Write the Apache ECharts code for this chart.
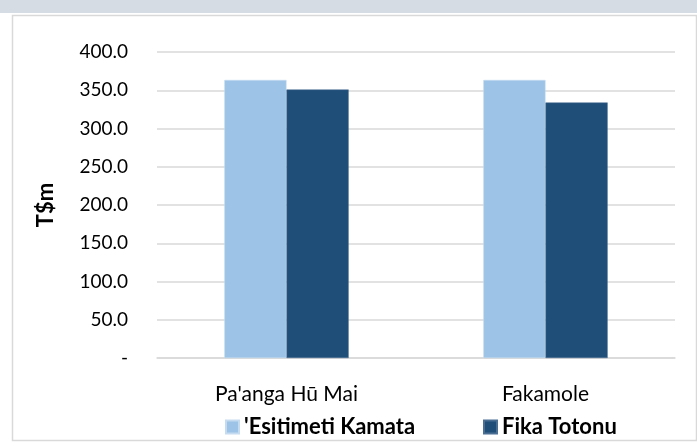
<!DOCTYPE html>
<html>
<head>
<meta charset="utf-8">
<script src="https://cdn.jsdelivr.net/npm/echarts@6/dist/echarts.min.js"></script>
<style>
  html, body { margin: 0; padding: 0; background: #fff; }
  #main { width: 697px; height: 446px; }
</style>
</head>
<body>
<div id="main"></div>
<script>
// data
const categories = ["Pa'anga Hū Mai", 'Fakamole'];
const seriesNames = ["'Esitimeti Kamata", 'Fika Totonu'];
const estimateValues = [363.5, 363.5];
const actualValues = [351, 334];
const yTicks = { min: 0, max: 400, step: 50 };

const chart = echarts.init(document.getElementById('main'));
const font = 'Lato, "Open Sans", sans-serif';

const legendText = { fontFamily: font, fontSize: 22, fontWeight: 'bold', color: '#000' };

const option = {
  animation: false,
  textStyle: { fontFamily: font },
  graphic: [
    { type: 'rect', left: 0, top: 0, shape: { width: 697, height: 13 }, style: { fill: '#d6dce4' } },
    { type: 'rect', left: 10, top: 13, shape: { width: 684, height: 425 }, style: { fill: 'none', stroke: '#d9d9d9', lineWidth: 1.5 } }
  ],
  grid: { left: 157, right: 22, top: 52, bottom: 88 },
  legend: [
    { left: 220, top: 411, itemWidth: 13, itemHeight: 13, icon: 'rect', textStyle: legendText, data: [seriesNames[0]] },
    { left: 478, top: 411, itemWidth: 13, itemHeight: 13, icon: 'rect', textStyle: legendText, data: [seriesNames[1]] }
  ],
  xAxis: {
    type: 'category',
    data: categories,
    axisLine: { lineStyle: { color: '#d9d9d9', width: 1.5 } },
    axisTick: { show: false },
    axisLabel: { color: '#000', fontSize: 21, margin: 26, fontFamily: font }
  },
  yAxis: {
    type: 'value',
    min: yTicks.min,
    max: yTicks.max,
    interval: yTicks.step,
    name: 'T$m',
    nameLocation: 'middle',
    nameGap: 100,
    nameTextStyle: { fontSize: 22, fontWeight: 'bold', color: '#000', fontFamily: font },
    axisLine: { show: false },
    axisTick: { show: false },
    splitLine: { lineStyle: { color: '#d9d9d9', width: 1.5 } },
    axisLabel: {
      color: '#000',
      fontSize: 19,
      margin: 29,
      fontFamily: font,
      formatter: v => (v === 0 ? '-' : v.toFixed(1))
    }
  },
  series: [
    {
      name: seriesNames[0],
      type: 'bar',
      data: estimateValues,
      barGap: '0%',
      barCategoryGap: '52%',
      itemStyle: { color: '#9dc3e6', borderColor: '#c5dcf0', borderWidth: 0.5 }
    },
    {
      name: seriesNames[1],
      type: 'bar',
      data: actualValues,
      itemStyle: { color: '#1f4e79', borderColor: '#4a6f93', borderWidth: 0.5 }
    }
  ]
};

chart.setOption(option);
</script>
</body>
</html>
